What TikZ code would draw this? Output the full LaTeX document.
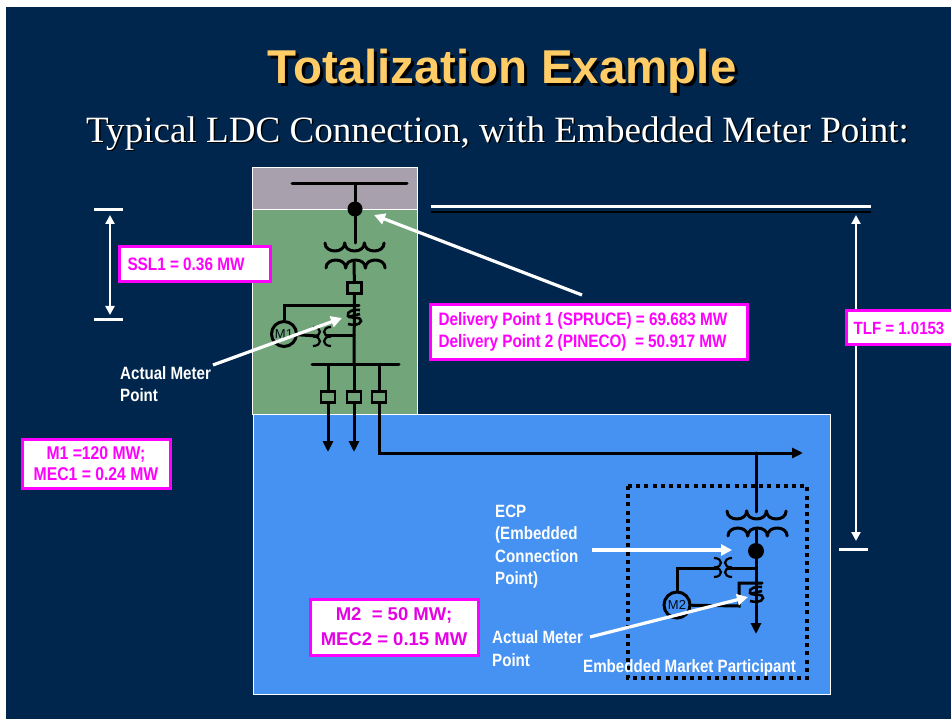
\documentclass[tikz,border=0pt]{standalone}
\usepackage{fontspec}
\setmainfont{Liberation Sans}
\newfontfamily\serifface{Liberation Serif}
\newfontfamily\narrowface[FakeStretch=0.85]{Liberation Sans}
\usetikzlibrary{arrows.meta}
\definecolor{navy}{HTML}{00264D}
\definecolor{greybox}{HTML}{A8A0AC}
\definecolor{greenbox}{HTML}{72A57A}
\definecolor{bluebox}{HTML}{4592F2}
\definecolor{magentaedge}{HTML}{FF00FF}
\definecolor{magentatext}{HTML}{FF00FF}
\definecolor{magentadark}{HTML}{E600E6}
\definecolor{titleyellow}{HTML}{FFCC66}
\newcommand\coilrow[5]{% x, y, lobe width, sag, lobes-1
  \foreach \k in {0,...,#5}{
    \draw[wire] ({#1+\k*#3},#2) .. controls ({#1+\k*#3},{#2+1.33*#4}) and ({#1+(\k+1)*#3},{#2+1.33*#4}) .. ({#1+(\k+1)*#3},#2);
  }}
\newcommand\coilcol[3]{% x, y, bulge
  \foreach \k in {0,1}{
    \draw[thinwire] (#1,{#2+\k*9.5}) .. controls ({#1+1.33*#3},{#2+\k*9.5}) and ({#1+1.33*#3},{#2+(\k+1)*9.5}) .. (#1,{#2+(\k+1)*9.5});
  }}
\newcommand\meterS[2]{% x,y of centre
  \draw[thinwire,line width=2.6pt] ({#1+6},{#2-9}) .. controls ({#1+1},{#2-10}) and ({#1-8},{#2-8}) .. ({#1-6},{#2-3})
     .. controls ({#1-4},{#2}) and ({#1+8},{#2-3}) .. ({#1+7},{#2+2})
     .. controls ({#1+6},{#2+7}) and ({#1-3},{#2+6}) .. ({#1-6},{#2+5});
  \draw[thinwire,line width=2.6pt] ({#1-6},{#2-2}) -- ({#1+6},{#2-5});
}
\tikzset{
  wire/.style={line width=3pt,black,line cap=round},
  thinwire/.style={line width=2.2pt,black},
  feeder/.style={wire,-{Triangle[length=11pt,width=10pt]}},
  breaker/.style={draw=black,line width=2.6pt,fill=none,minimum width=14pt,minimum height=11pt,inner sep=0pt},
  dotnode/.style={circle,fill=black,inner sep=0pt},
  meter/.style={circle,draw=black,line width=3pt,inner sep=0pt,font=\fontsize{13}{13}\selectfont,text=black!70!navy},
  whitearrow/.style={draw=white,line width=3.2pt,-{Triangle[length=11pt,width=11pt]}},
  whiteline/.style={draw=white,line width=3pt},
  dimarrow/.style={draw=white,line width=2.6pt,{Triangle[length=9pt,width=9pt]}-{Triangle[length=9pt,width=9pt]}},
  tag/.style={draw=magentaedge,line width=3pt,fill=white,text=magentatext,inner sep=0pt,align=center,font=\narrowface\bfseries\fontsize{18}{21}\selectfont},
  label/.style={text=white,anchor=west,align=left,inner sep=0pt,font=\narrowface\bfseries\fontsize{17.8}{22.5}\selectfont},
}
\begin{document}
\begin{tikzpicture}[x=1pt,y=-1pt]
\useasboundingbox (0,0) rectangle (951,719);
\fill[white] (0,0) rectangle (951,719);
\fill[navy] (6,7) rectangle (951,719);
% titles
\node[anchor=center,inner sep=0pt,text=black,font=\bfseries\fontsize{47.5}{47.5}\selectfont] (titleshadow) at (505,74) {Totalization Example};
\node[anchor=center,inner sep=0pt,text=titleyellow,font=\bfseries\fontsize{47.5}{47.5}\selectfont] (title) at (502,71.5) {Totalization Example};
\node[anchor=center,inner sep=0pt,text=black,font=\serifface\fontsize{37.1}{37.1}\selectfont] (subshadow) at (499,135) {Typical LDC Connection, with Embedded Meter Point:};
\node[anchor=center,inner sep=0pt,text=white,font=\serifface\fontsize{37.1}{37.1}\selectfont] (sub) at (497.5,133.5) {Typical LDC Connection, with Embedded Meter Point:};
% regions
\draw[white,line width=1pt,fill=greenbox] (252,210) rectangle (417,414);
\draw[white,line width=1pt,fill=greybox] (252,168) rectangle (417,210);
\draw[white,line width=1pt,fill=bluebox] (253,414) rectangle (830,694);
% nodes upper
\coordinate (busL) at (292,184); \coordinate (busR) at (407,184); \coordinate (busT) at (355,184);
\node[dotnode,minimum size=15pt] (dp) at (355,209) {};
\coordinate (xT) at (355,243);
\coordinate (xB) at (354,262);
\node[breaker] (brk) at (354.5,288) {};
\coordinate (lowbusL) at (312,365); \coordinate (lowbusR) at (399,365); \coordinate (lowbusM) at (354,365);
\node[meter,minimum size=25pt] (m1) at (284,334) {M1};
\coordinate (m1top) at (284,306); \coordinate (m1jn) at (359,306); \coordinate (ctjn) at (354,336);
\draw[wire] (busL) -- (busR);
\draw[wire] (busT) -- (dp);
\draw[wire] (dp) -- (xT);
\coilrow{325}{243}{19.7}{8}{2}
\coilrow{326}{268}{19.7}{-8}{2}
\draw[wire] (xB) -- (brk);
\draw[wire] (brk) -- (lowbusM);
\draw[wire] (lowbusL) -- (lowbusR);
\draw[wire] (m1) -- (m1top) -- (m1jn);
\draw[wire] (m1) -- (318,336);
\draw[wire] (326,336) -- (ctjn);
\coilcol{313}{327}{7}
\coilcol{331}{327}{-7}
\meterS{354}{319}
\node[breaker] (f1) at (328,397) {};
\node[breaker] (f2) at (354,397) {};
\node[breaker] (f3) at (379,397) {};
\coordinate (t1) at (328,365); \coordinate (t2) at (354,365); \coordinate (t3) at (379,365);
\coordinate (e1) at (328,452); \coordinate (e2) at (354,452);
\coordinate (c3) at (379,453); \coordinate (e3) at (803,453); \coordinate (tap) at (756,453);
\draw[wire] (t1) -- (f1); \draw[wire] (t2) -- (f2); \draw[wire] (t3) -- (f3);
\draw[feeder] (f1) -- (e1);
\draw[feeder] (f2) -- (e2);
\draw[feeder] (f3) -- (c3) -- (e3);
% lower
\node[dotnode,minimum size=16pt] (ecp) at (756,551) {};
\coordinate (x2T) at (756,512);
\coilrow{727}{511}{19.7}{8}{2}
\coilrow{728}{536}{19.7}{-8}{2}
\draw[wire] (tap) -- (x2T);
\draw[wire] (756,530) -- (ecp);
\coordinate (e4) at (756,634);
\draw[feeder] (ecp) -- (e4);
\node[meter,minimum size=26pt] (m2) at (677,605) {M2};
\coordinate (m2top) at (677,568); \coordinate (ct2) at (756,568);
\draw[wire] (m2) -- (m2top) -- (718,568);
\draw[wire] (727,568) -- (ct2);
\coilcol{714}{558}{7}
\coilcol{732}{558}{-7}
\coordinate (mb) at (739,606); \coordinate (mt) at (739,583); \coordinate (mr) at (762,583);
\draw[wire] (m2) -- (mb) -- (mt) -- (mr);
\meterS{756}{596}
\draw[black,line width=4pt,dash pattern=on 4pt off 4.2pt] (628,486) rectangle (807,678);
% white arrows
\coordinate (a1s) at (582,295); \coordinate (a1e) at (374,215);
\draw[whitearrow] (a1s) -- (a1e);
\coordinate (a2s) at (213,365); \coordinate (a2e) at (342,318);
\draw[whitearrow] (a2s) -- (a2e);
\coordinate (a3s) at (592,550); \coordinate (a3e) at (732,550);
\draw[whitearrow] (a3s) -- (a3e);
\coordinate (a4s) at (590,637); \coordinate (a4e) at (748,597);
\draw[whitearrow] (a4s) -- (a4e);
% dimension lines
\coordinate (tl1) at (431,206.7); \coordinate (tl2) at (871,206.7);
\coordinate (tb1) at (431,212); \coordinate (tb2) at (871,212);
\draw[whiteline] (tl1) -- (tl2);
\draw[black,line width=2.8pt] (tb1) -- (tb2);
\coordinate (tlftop) at (856,215); \coordinate (tlfbot) at (856,541);
\draw[dimarrow] (tlftop) -- (tlfbot);
\coordinate (tlfa) at (839,549); \coordinate (tlfb) at (868,549);
\draw[whiteline] (tlfa) -- (tlfb);
\coordinate (sa1) at (94,210); \coordinate (sa2) at (123,210);
\coordinate (sb1) at (94,319.5); \coordinate (sb2) at (123,319.5);
\draw[whiteline] (sa1) -- (sa2);
\draw[whiteline] (sb1) -- (sb2);
\coordinate (sat) at (110,215); \coordinate (sab) at (110,315);
\draw[dimarrow] (sat) -- (sab);
% tags
\node[tag,minimum width=151pt,minimum height=35pt] (ssl) at (194.5,264.5) {SSL1 = 0.36 MW\hspace*{17pt}};
\node[tag,minimum width=317pt,minimum height=55pt,align=left,font=\narrowface\bfseries\fontsize{18}{22}\selectfont] (dl) at (588.5,332) {Delivery Point 1 (SPRUCE) = 69.683 MW\hspace*{11pt}\\Delivery Point 2 (PINECO)\ \ = 50.917 MW};
\node[tag,minimum width=106pt,minimum height=34pt,font=\narrowface\bfseries\fontsize{17.7}{21}\selectfont] (tlf) at (899,328) {TLF = 1.0153};
\node[tag,minimum width=148pt,minimum height=49pt,font=\narrowface\bfseries\fontsize{18.5}{21}\selectfont] (mec1) at (96,463.5) {M1 =120 MW;\\MEC1 = 0.24 MW};
\node[tag,minimum width=168pt,minimum height=56pt,text=magentadark,font=\bfseries\fontsize{18.5}{25}\selectfont] (mec2) at (394,627) {M2\ \ = 50 MW;\\MEC2 = 0.15 MW};
% labels
\node[label] (am1) at (120,384) {Actual Meter\\Point};
\node[label,font=\narrowface\bfseries\fontsize{17.8}{22.5}\selectfont] (ecptext) at (495,546.5) {ECP\\(Embedded\\Connection\\Point)};
\node[label,font=\narrowface\bfseries\fontsize{17.8}{23.5}\selectfont] (am2) at (492,648.5) {Actual Meter\\Point};
\node[label,font=\narrowface\bfseries\fontsize{17.8}{18}\selectfont] (emp) at (583,668) {Embedded Market Participant};
\end{tikzpicture}
\end{document}
